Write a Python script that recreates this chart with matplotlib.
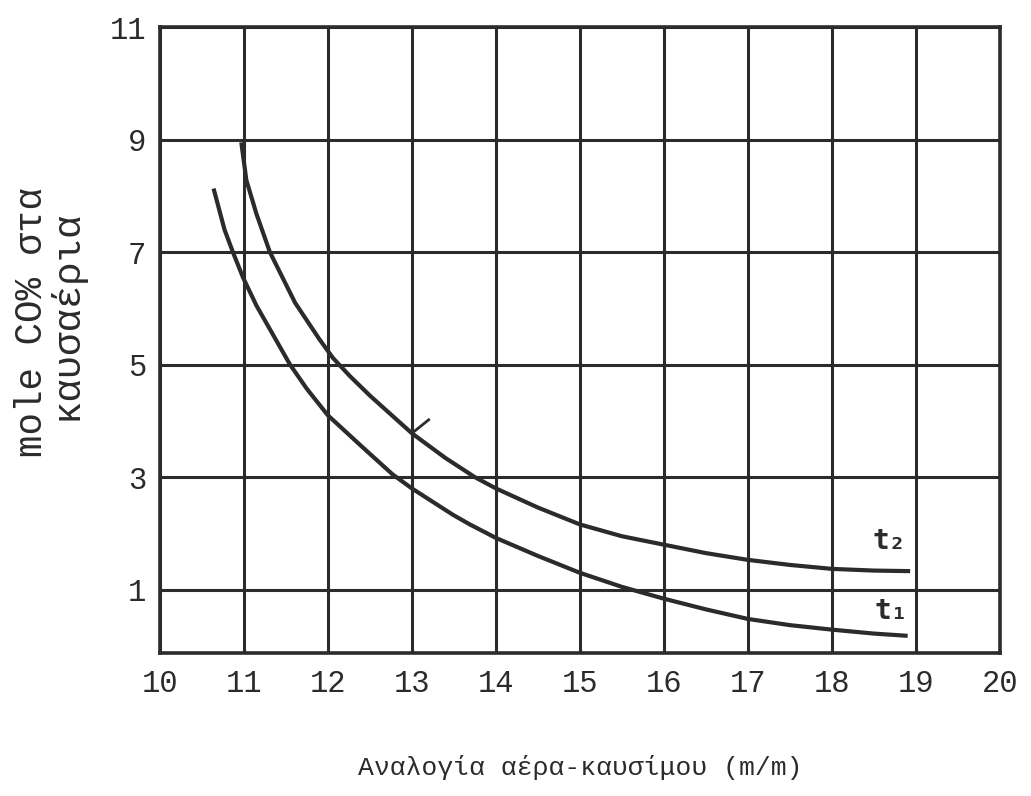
import matplotlib
matplotlib.use("Agg")
import matplotlib.pyplot as plt

plt.rcParams['font.family'] = ['Liberation Mono', 'DejaVu Sans Mono']

# καμπύλη t1 (κάτω)
t1_x = [10.64, 10.77, 10.87, 10.99, 11.15, 11.31, 11.55, 11.75, 12.0, 12.4, 12.77, 13.0, 13.49,
        13.69, 14.0, 14.5, 15.0, 15.5, 16.0, 16.5, 17.0, 17.5, 18.0, 18.5, 18.9]
t1_y = [8.13, 7.4, 7.0, 6.55, 6.05, 5.63, 5.0, 4.57, 4.1, 3.55, 3.05, 2.8, 2.33,
        2.16, 1.92, 1.6, 1.3, 1.05, 0.84, 0.65, 0.48, 0.37, 0.29, 0.22, 0.18]
# καμπύλη t2 (πάνω)
t2_x = [10.97, 11.03, 11.15, 11.31, 11.61, 11.9, 12.06, 12.26, 12.5, 13.0, 13.4, 13.75,
        14.0, 14.5, 15.0, 15.5, 16.0, 16.5, 17.0, 17.5, 18.0, 18.5, 18.93]
t2_y = [8.95, 8.28, 7.68, 7.0, 6.1, 5.45, 5.12, 4.8, 4.45, 3.78, 3.34, 3.0,
        2.8, 2.46, 2.16, 1.95, 1.8, 1.65, 1.53, 1.44, 1.37, 1.34, 1.33]

xticks = [10, 11, 12, 13, 14, 15, 16, 17, 18, 19, 20]
yticks = [1, 3, 5, 7, 9, 11]

ink = '#2b2b2b'

fig = plt.figure(figsize=(10.31, 7.96), dpi=100)
ax = fig.add_axes([0.155, 0.18, 0.815, 0.786])

ax.plot(t1_x, t1_y, color=ink, lw=3.0, solid_capstyle='butt')
ax.plot(t2_x, t2_y, color=ink, lw=3.0, solid_capstyle='butt')
# μικρό σημάδι πάνω στην t2
ax.plot([13.0, 13.2], [3.78, 4.02], color=ink, lw=2.0)

ax.text(18.68, 1.86, 't₂', fontsize=20, fontweight='bold', color=ink,
        ha='center', va='center', family=['DejaVu Sans Mono'])
ax.text(18.70, 0.62, 't₁', fontsize=20, fontweight='bold', color=ink,
        ha='center', va='center', family=['DejaVu Sans Mono'])

ax.set_xlim(10, 20)
ax.set_ylim(-0.12, 11)
ax.set_xticks(xticks)
ax.set_yticks(yticks)
ax.grid(True, color=ink, lw=2.2)
ax.set_axisbelow(True)
for s in ax.spines.values():
    s.set_color(ink)
    s.set_linewidth(2.6)
ax.tick_params(length=0, labelsize=22, colors=ink, pad=12)
ax.tick_params(axis='y', pad=10)

ax.set_xlabel('Αναλογία αέρα-καυσίμου (m/m)', fontsize=19, color=ink, labelpad=40)

# ετικέτα άξονα y σε δύο γραμμές
fig.text(0.031, 0.595, 'mole CO% στα', rotation=90, fontsize=27, color=ink,
         ha='center', va='center')
fig.text(0.064, 0.605, 'καυσαέρια', rotation=90, fontsize=28, color=ink,
         ha='center', va='center')

fig.savefig('out.png', dpi=100, facecolor='white')
